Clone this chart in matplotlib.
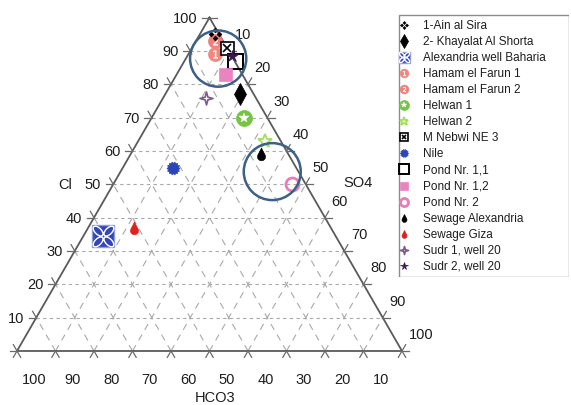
import numpy as np
import matplotlib
matplotlib.use("Agg")
import matplotlib.pyplot as plt
from matplotlib.path import Path
from matplotlib.transforms import Affine2D
from matplotlib.patches import Circle, Rectangle

plt.rcParams['font.family'] = ['Liberation Sans', 'DejaVu Sans']

# ---------------------------------------------------------------- data
samples = ["1-Ain al Sira", "2- Khayalat Al Shorta", "Alexandria well Baharia",
           "Hamam el Farun 1", "Hamam el Farun 2", "Helwan 1", "Helwan 2",
           "M Nebwi NE 3", "Nile", "Pond Nr. 1,1", "Pond Nr. 1,2", "Pond Nr. 2",
           "Sewage Alexandria", "Sewage Giza", "Sudr 1, well 20", "Sudr 2, well 20"]
cl = [95, 77, 34.5, 89, 93, 70, 63, 91, 55, 87, 83, 50, 59, 37, 76, 88.5]
so4 = [4, 19.5, 5, 7, 5, 24, 33, 9, 13, 13, 12.5, 46.5, 34, 12, 11, 11.5]
hco3 = [1, 3.5, 60.5, 4, 2, 6, 4, 0, 32, 0, 4.5, 3.5, 7, 51, 13, 0]

# highlighted groups (composition of circle centre, radius in % of side)
group_cl = [87.7, 53.8]
group_so4 = [8.4, 39.4]
group_hco3 = [3.9, 6.8]
group_radius = [7.3, 7.4]

ticks = list(range(10, 101, 10))
axis_names = ["Cl", "SO4", "HCO3"]

H = np.sqrt(3) / 2


def tern(c, s, h):
    c, s, h = np.asarray(c, float), np.asarray(s, float), np.asarray(h, float)
    tot = c + s + h
    return 100 * (s + c / 2) / tot, 100 * c * H / tot


# ---------------------------------------------------------------- marker paths
def four_diamonds():
    parts = []
    for dx, dy in [(0, 0.62), (0.62, 0), (0, -0.62), (-0.62, 0)]:
        v = [(dx, dy + 0.38), (dx + 0.38, dy), (dx, dy - 0.38), (dx - 0.38, dy), (dx, dy + 0.38)]
        parts.append(Path(v, [Path.MOVETO] + [Path.LINETO] * 3 + [Path.CLOSEPOLY]))
    return Path.make_compound_path(*parts)


def drop():
    ang = np.radians(np.linspace(152.7, 387.3, 40))
    r, cy = 0.62, -0.35
    v = [(0, 1)] + [(r * np.cos(a), cy + r * np.sin(a)) for a in ang] + [(0, 1)]
    return Path(v, closed=True)


def spiky():
    n = 28
    a = np.linspace(0, 2 * np.pi, n, endpoint=False)
    r = np.where(np.arange(n) % 2 == 0, 1.0, 0.8)
    v = np.column_stack([r * np.cos(a), r * np.sin(a)])
    return Path(np.vstack([v, v[:1]]), closed=True)


def petals():
    parts = []
    for k in range(4):
        t = Affine2D().scale(0.22, 0.42).translate(0, 0.52).rotate_deg(45 + 90 * k)
        parts.append(Path.unit_circle().transformed(t))
    return Path.make_compound_path(*parts)


def star4():
    a = np.radians(np.arange(8) * 45 + 90)
    r = np.where(np.arange(8) % 2 == 0, 1.0, 0.3)
    v = np.column_stack([r * np.cos(a), r * np.sin(a)])
    return Path(np.vstack([v, v[:1]]), closed=True)


# layers: (marker, size factor, face, edge, edge width)
styles = [
    [(four_diamonds(), 1.0, 'black', 'black', 0.4)],
    [('d', 1.0, 'black', 'black', 0.5)],
    [('s', 1.0, '#3446b3', '#8a9be0', 1.0), (petals(), 0.95, 'none', 'white', 1.0)],
    [('o', 1.0, '#f2877f', '#f2877f', 0.5), ('$1$', 0.55, 'white', 'white', 0.3)],
    [('o', 1.0, '#ef7f7a', '#ef7f7a', 0.5), ('$2$', 0.55, 'white', 'white', 0.3)],
    [('o', 1.0, '#74c544', '#74c544', 0.5), ('*', 0.62, 'white', 'white', 0.3)],
    [('*', 1.0, 'none', '#a3e05a', 1.3)],
    [('s', 1.0, 'white', 'black', 1.2), ('x', 0.6, 'black', 'black', 1.2)],
    [(spiky(), 1.0, '#2b45b8', '#2b45b8', 0.5)],
    [('s', 1.0, 'none', 'black', 1.4)],
    [('s', 1.0, '#ea84c1', '#ea84c1', 0.5)],
    [('o', 1.0, 'none', '#ea7bbb', 2.0)],
    [(drop(), 1.0, 'black', 'black', 0.4)],
    [(drop(), 1.0, '#e0211c', '#e0211c', 0.4)],
    [(star4(), 1.0, 'white', '#7c5a90', 1.2)],
    [('*', 1.0, '#3a1553', '#3a1553', 0.5)],
]
sizes_px = [13, 15, 22, 14, 14, 16, 14, 13, 13, 15, 13, 13, 13, 13, 13, 12]
order = [4, 3, 0, 1, 2, 5, 6, 7, 8, 9, 10, 11, 12, 13, 14, 15]


def draw_sample(ax, x, y, idx, size_px, z):
    for k, (m, f, fc, ec, lw) in enumerate(styles[idx]):
        ax.plot([x], [y], linestyle='none', marker=m, markersize=size_px * f * 0.72,
                markerfacecolor=fc, markeredgecolor=ec, markeredgewidth=lw,
                zorder=z + 0.1 * k)


# ---------------------------------------------------------------- figure
fig = plt.figure(figsize=(5.71, 4.06), dpi=100)
ax = fig.add_axes([0, 0, 1, 1])
ax.set_xlim(-4.416, 143.9)
ax.set_ylim(-14.03, 91.43)
ax.axis('off')

edge_col = '#5a5a5a'
tick_col = '#6a6a6a'
grid_col = '#a8a8a8'
text_col = '#1e1e1e'

# grid
for v in range(10, 100, 10):
    x, y = tern([v, v], [0, 100 - v], [100 - v, 0])
    ax.plot(x, y, color=grid_col, lw=0.8, ls=(0, (3, 3)), zorder=1)
    x, y = tern([0, 100 - v], [v, v], [100 - v, 0])
    ax.plot(x, y, color=grid_col, lw=0.8, ls=(0, (6, 5)), zorder=1)
    x, y = tern([0, 100 - v], [100 - v, 0], [v, v])
    ax.plot(x, y, color=grid_col, lw=0.8, ls=(0, (6, 5)), zorder=1)

# triangle frame
x, y = tern([100, 0, 0, 100], [0, 0, 100, 0], [0, 100, 0, 0])
ax.plot(x, y, color=edge_col, lw=1.3, zorder=2, solid_joinstyle='miter')

# ticks: short outward extensions of the two grid lines meeting each edge mark
L = 1.9
for v in range(0, 101, 10):
    px, py = tern(v, 0, 100 - v)
    dirs = [(-1, 0)] if v == 100 else [(-1, 0), (-0.5, H)]
    for dx, dy in dirs:
        ax.plot([px, px + L * dx], [py, py + L * dy], color=tick_col, lw=0.9, zorder=2)
    px, py = tern(100 - v, v, 0)
    dirs = [(1, 0)] if v == 0 else [(1, 0), (0.5, H)]
    for dx, dy in dirs:
        ax.plot([px, px + L * dx], [py, py + L * dy], color=tick_col, lw=0.9, zorder=2)
    px, py = tern(0, 100 - v, v)
    for dx, dy in [(-0.5, -H), (0.5, -H)]:
        ax.plot([px, px + L * dx], [py, py + L * dy], color=tick_col, lw=0.9, zorder=2)

fs = 10.5
for v in ticks:
    px, py = tern(v, 0, 100 - v)
    ax.text(px - 3.1, py, str(v), ha='right', va='center', fontsize=fs, color=text_col)
    px, py = tern(100 - v, v, 0)
    ax.text(px + 1.7, py + 4.4, str(v), ha='left', va='center', fontsize=fs, color=text_col)
    px, py = tern(0, 100 - v, v)
    ax.text(px + 4.5, py - 7.3, str(v), ha='center', va='center', fontsize=fs, color=text_col)

ax.text(12.5, 43.4, axis_names[0], ha='center', va='center', fontsize=fs, color=text_col)
ax.text(88.6, 43.8, axis_names[1], ha='center', va='center', fontsize=fs, color=text_col)
ax.text(51.4, -11.9, axis_names[2], ha='center', va='center', fontsize=fs, color=text_col)

# samples
sx, sy = tern(cl, so4, hco3)
for rank, i in enumerate(order):
    draw_sample(ax, sx[i], sy[i], i, sizes_px[i], 5 + rank * 0.5)

# highlighted groups
gx, gy = tern(group_cl, group_so4, group_hco3)
for x, y, r in zip(gx, gy, group_radius):
    ax.add_patch(Circle((x, y), r, fill=False, edgecolor='#3d6088', lw=1.8, zorder=20))

# legend
lax = fig.add_axes([398 / 571, 1 - 278 / 406, 171 / 571, 263 / 406])
lax.set_xlim(0, 171)
lax.set_ylim(263, 0)
lax.axis('off')
lax.add_patch(Rectangle((0.5, 0.5), 170, 262, fill=False, edgecolor='#8c8c8c', lw=1.0))
for i, name in enumerate(samples):
    yy = 11 + i * 16.05
    s = min(sizes_px[i] * 0.62, 11)
    draw_sample(lax, 5.5, yy, i, s, 5)
    lax.text(25, yy, name, ha='left', va='center', fontsize=8.5, color=text_col)

fig.savefig("out.png", dpi=100)
